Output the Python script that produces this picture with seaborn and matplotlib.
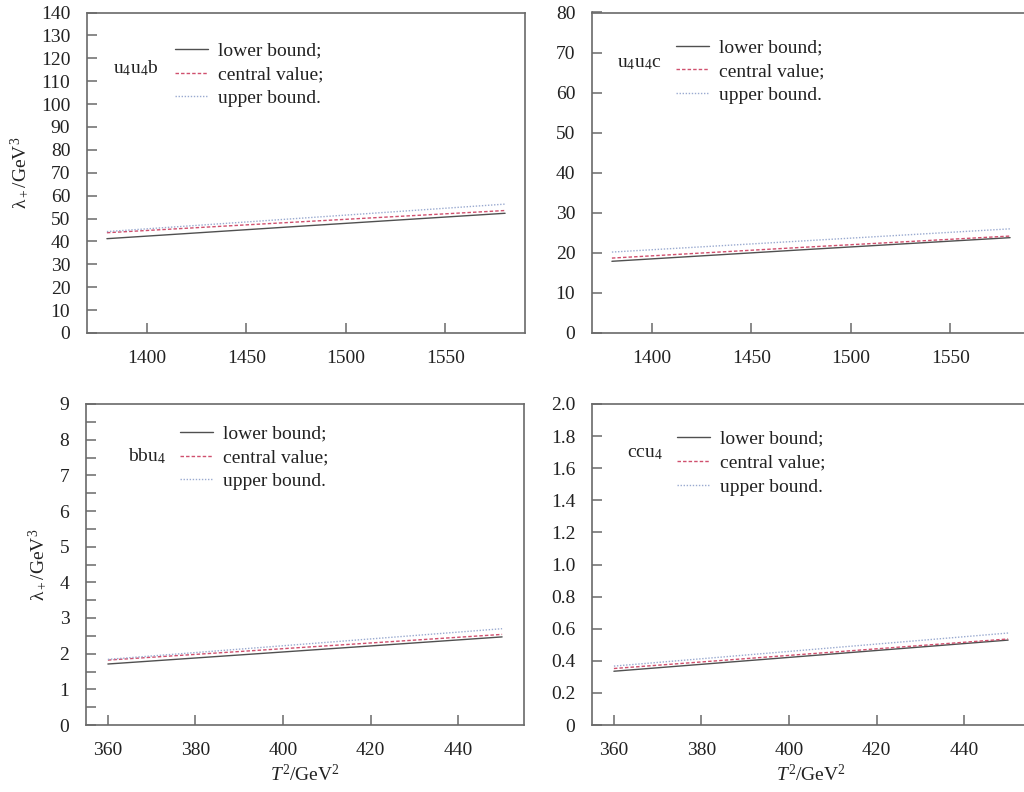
import numpy as np
import pandas as pd
import matplotlib
matplotlib.use('Agg')
import matplotlib.pyplot as plt
from matplotlib.ticker import MultipleLocator, FuncFormatter
import seaborn as sns

t2_top = [1380, 1480, 1580]
t2_bottom = [360, 405, 450]

# lambda_+ (GeV^3): lower bound / central value / upper bound
u4u4b_lower = [41.2, 46.8, 52.3]
u4u4b_central = [43.8, 48.7, 53.5]
u4u4b_upper = [44.3, 50.3, 56.3]

u4u4c_lower = [17.9, 20.9, 23.8]
u4u4c_central = [18.7, 21.5, 24.2]
u4u4c_upper = [20.2, 23.1, 26.0]

bbu4_lower = [1.71, 2.09, 2.47]
bbu4_central = [1.82, 2.18, 2.54]
bbu4_upper = [1.84, 2.27, 2.70]

ccu4_lower = [0.335, 0.432, 0.529]
ccu4_central = [0.352, 0.444, 0.536]
ccu4_upper = [0.367, 0.470, 0.573]

series_labels = ['lower bound;', 'central value;', 'upper bound.']
panel_names = [r'u$_4$u$_4$b', r'u$_4$u$_4$c', r'bbu$_4$', r'ccu$_4$']

sns.set_theme(style='ticks')
plt.rcParams['font.family'] = ['Liberation Serif', 'DejaVu Serif']
plt.rcParams['mathtext.fontset'] = 'custom'
plt.rcParams['mathtext.rm'] = 'Liberation Serif'
plt.rcParams['mathtext.it'] = 'Liberation Serif:italic'
plt.rcParams['font.size'] = 14

line_styles = [
    dict(color='#505050', linestyle='-', linewidth=1.0),
    dict(color='#d0506e', linestyle=(0, (2.5, 1.5)), linewidth=1.0),
    dict(color='#9aaad0', linestyle=(0, (1, 1.2)), linewidth=1.0),
]

W, H = 1024, 792
fig = plt.figure(figsize=(W / 100, H / 100), dpi=100)


def px_axes(left, top, right, bottom):
    return fig.add_axes([left / W, 1 - bottom / H, (right - left) / W, (bottom - top) / H])


panels = [
    dict(ax=px_axes(87, 12.5, 525, 333), x=t2_top,
         ys=[u4u4b_lower, u4u4b_central, u4u4b_upper],
         xlim=(1370, 1590), ylim=(0, 140), ystep=10, xstep=50, minor=None,
         name_pos=(0.059, 0.827), leg_x=0.201, leg_top=0.908, fmt='int'),
    dict(ax=px_axes(592, 12.5, 1030, 333), x=t2_top,
         ys=[u4u4c_lower, u4u4c_central, u4u4c_upper],
         xlim=(1370, 1590), ylim=(0, 80), ystep=10, xstep=50, minor=None,
         name_pos=(0.057, 0.841), leg_x=0.192, leg_top=0.918, fmt='int'),
    dict(ax=px_axes(86, 404, 524, 725), x=t2_bottom,
         ys=[bbu4_lower, bbu4_central, bbu4_upper],
         xlim=(355, 455), ylim=(0, 9), ystep=1, xstep=20, minor=0.5,
         name_pos=(0.096, 0.838), leg_x=0.215, leg_top=0.935, fmt='int'),
    dict(ax=px_axes(592, 404, 1030, 725), x=t2_bottom,
         ys=[ccu4_lower, ccu4_central, ccu4_upper],
         xlim=(355, 455), ylim=(0, 2), ystep=0.2, xstep=20, minor=None,
         name_pos=(0.08, 0.845), leg_x=0.194, leg_top=0.918, fmt='dec'),
]

for i, p in enumerate(panels):
    ax = p['ax']
    for y, lab, st in zip(p['ys'], series_labels, line_styles):
        df = pd.DataFrame({'T2': p['x'], 'lam': y})
        sns.lineplot(data=df, x='T2', y='lam', ax=ax, label=lab, **st)

    ax.set_xlim(*p['xlim'])
    ax.set_ylim(*p['ylim'])
    ax.xaxis.set_major_locator(MultipleLocator(p['xstep']))
    ax.yaxis.set_major_locator(MultipleLocator(p['ystep']))
    if p['minor']:
        ax.yaxis.set_minor_locator(MultipleLocator(p['minor']))
    if p['fmt'] == 'dec':
        ax.yaxis.set_major_formatter(FuncFormatter(lambda v, pos: '0' if abs(v) < 1e-9 else f'{v:.1f}'))
    else:
        ax.yaxis.set_major_formatter(FuncFormatter(lambda v, pos: f'{v:.0f}'))

    for s in ax.spines.values():
        s.set_color('#6a6a6a')
        s.set_linewidth(1.2)
    ax.tick_params(which='both', direction='in', length=7, width=1.1, color='#6a6a6a',
                   labelsize=14, labelcolor='#222222', pad=12)

    ax.text(p['name_pos'][0], p['name_pos'][1], panel_names[i], transform=ax.transAxes,
            fontsize=14, ha='left', va='center', color='#222222')

    leg = ax.legend(loc='upper left', bbox_to_anchor=(p['leg_x'], p['leg_top']),
                    frameon=False, fontsize=14, handlelength=1.7, handletextpad=0.5,
                    labelspacing=0.32, borderpad=0, borderaxespad=0)
    for t in leg.get_texts():
        t.set_color('#222222')

    ax.set_xlabel('')
    ax.set_ylabel('')
    if i % 2 == 0:
        ax.set_ylabel('λ$_+$/GeV$^3$', fontsize=14, color='#222222', labelpad=8)
    if i >= 2:
        ax.set_xlabel(r'$T^2$/GeV$^2$', fontsize=14, color='#222222', labelpad=4)

fig.savefig('out.png', dpi=100)
